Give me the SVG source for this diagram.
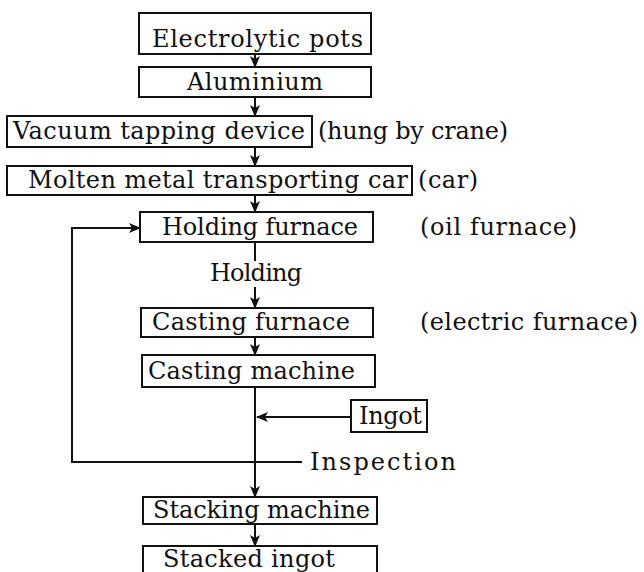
<svg xmlns="http://www.w3.org/2000/svg" width="644" height="572" viewBox="0 0 644 572">
<style>
.box{fill:#fff;stroke:#111;stroke-width:2}
.t{font-family:"DejaVu Serif","Liberation Serif",serif;font-size:24px;fill:#111}
.c{fill:none;stroke:#111;stroke-width:2}
</style>
<defs>
<marker id="ah" markerUnits="userSpaceOnUse" markerWidth="12" markerHeight="10" refX="11" refY="5" orient="auto" viewBox="0 0 12 10">
<path d="M0,0 L12,5 L0,10 L3,5 z" fill="#111"/>
</marker>
</defs>
<rect width="644" height="572" fill="#fff"/>
<g id="connectors">
<line class="c" x1="255" y1="54" x2="255" y2="67" marker-end="url(#ah)"/>
<line class="c" x1="255" y1="97" x2="255" y2="116" marker-end="url(#ah)"/>
<line class="c" x1="255" y1="147" x2="255" y2="166" marker-end="url(#ah)"/>
<line class="c" x1="255" y1="195" x2="255" y2="212" marker-end="url(#ah)"/>
<line class="c" x1="255" y1="242" x2="255" y2="261"/>
<line class="c" x1="255" y1="287" x2="255" y2="308" marker-end="url(#ah)"/>
<line class="c" x1="255" y1="337" x2="255" y2="355" marker-end="url(#ah)"/>
<line class="c" x1="255" y1="387" x2="255" y2="497" marker-end="url(#ah)"/>
<line class="c" x1="351" y1="417" x2="257" y2="417" marker-end="url(#ah)"/>
<polyline class="c" points="302,462 72,462 72,228 140,228" marker-end="url(#ah)"/>
<line class="c" x1="255" y1="524" x2="255" y2="546" marker-end="url(#ah)"/>
</g>
<g id="n-electrolytic"><rect class="box" x="139" y="13" width="232" height="41"/><text class="t" x="152" y="47" font-size="25" textLength="211">Electrolytic pots</text></g>
<g id="n-aluminium"><rect class="box" x="139" y="67" width="232" height="30"/><text class="t" x="187" y="90" textLength="136">Aluminium</text></g>
<g id="n-vacuum"><rect class="box" x="7" y="116" width="305" height="31"/><text class="t" x="13" y="139" textLength="292">Vacuum tapping device</text></g>
<text class="t" x="318" y="139" textLength="190">(hung by crane)</text>
<g id="n-molten"><rect class="box" x="7" y="166" width="405" height="29"/><text class="t" x="28" y="188" textLength="380">Molten metal transporting car</text></g>
<text class="t" x="418" y="188" textLength="60">(car)</text>
<g id="n-holding"><rect class="box" x="140" y="212" width="233" height="30"/><text class="t" x="162" y="235" textLength="196">Holding furnace</text></g>
<text class="t" x="420" y="235" textLength="157">(oil furnace)</text>
<text class="t" x="210" y="281" textLength="92">Holding</text>
<g id="n-castfurnace"><rect class="box" x="141" y="308" width="232" height="29"/><text class="t" x="152" y="330" textLength="198">Casting furnace</text></g>
<text class="t" x="420" y="330" textLength="218">(electric furnace)</text>
<g id="n-castmachine"><rect class="box" x="142" y="355" width="233" height="32"/><text class="t" x="148" y="379" textLength="207">Casting machine</text></g>
<g id="n-ingot"><rect class="box" x="351" y="400" width="76" height="32"/><text class="t" x="359" y="424" textLength="63">Ingot</text></g>
<text class="t" x="310" y="470" textLength="146">Inspection</text>
<g id="n-stacking"><rect class="box" x="143" y="497" width="234" height="27"/><text class="t" x="153" y="518" textLength="217">Stacking machine</text></g>
<g id="n-stacked"><rect class="box" x="143" y="546" width="234" height="40"/><text class="t" x="163" y="567" textLength="172">Stacked ingot</text></g>
</svg>
